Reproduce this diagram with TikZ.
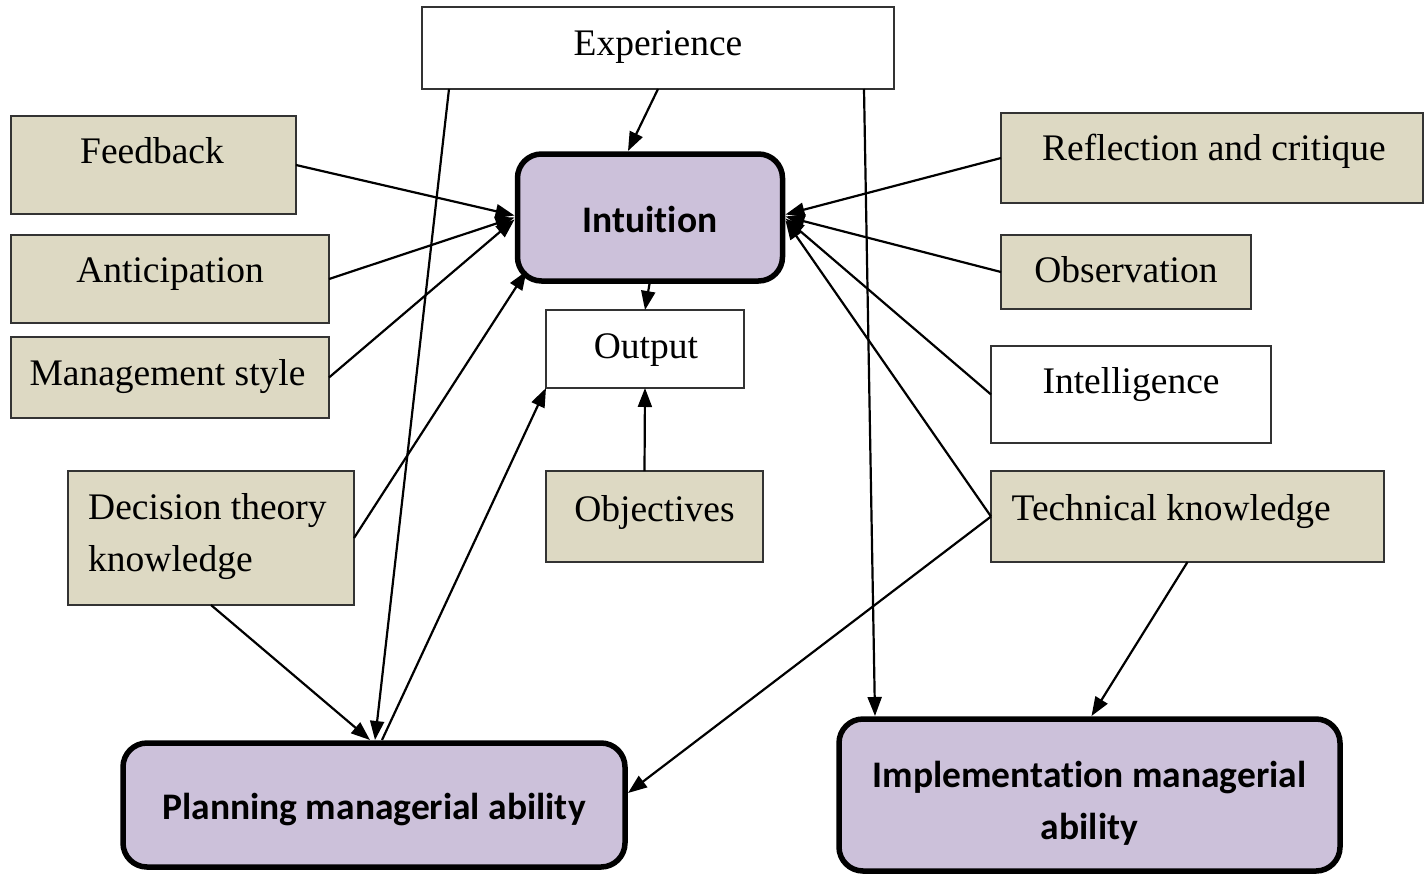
\documentclass[tikz,border=0pt]{standalone}
\usepackage{fontspec}
\setmainfont{Liberation Serif}
\newfontfamily\headfont[Ligatures=NoCommon]{Carlito}
\usetikzlibrary{arrows.meta,calc}
\definecolor{tan}{HTML}{DDD9C3}
\definecolor{lilac}{HTML}{CCC1DA}
\definecolor{edge}{HTML}{333333}
\begin{document}
\begin{tikzpicture}[x=1pt,y=-1pt,
  plainbox/.style={draw=edge,line width=1.4pt,fill=white,inner sep=0pt,outer sep=0pt},
  tanbox/.style={plainbox,fill=tan},
  keybox/.style={draw=black,line width=5.5pt,fill=lilac,rounded corners=24pt,inner sep=0pt,outer sep=0pt},
  sz/.style 2 args={minimum width=#1pt,minimum height=#2pt},
  lbl/.style={anchor=base,inner sep=0pt,font=\fontsize{37.5}{52}\selectfont},
  lblw/.style={anchor=base west,inner sep=0pt,font=\fontsize{37.5}{52}\selectfont},
  klbl/.style={anchor=base,inner sep=0pt,font=\headfont\bfseries\fontsize{37.5}{52}\selectfont},
  link/.style={line width=2.2pt,-{Triangle[length=19pt,width=14pt]}}]
\useasboundingbox (0,0) rectangle (1424,876);

% source boxes
\node[plainbox,sz={472}{82}] (exp) at (658,48) {};
\node[lbl,yshift=-7pt] at (exp.center) {Experience};

\node[tanbox,sz={285}{98}] (fb) at (153.5,165) {};
\node[lbl,yshift=2pt,xshift=-1.5pt] at (fb.center) {Feedback};

\node[tanbox,sz={318}{88}] (ant) at (170,279) {};
\node[lbl,yshift=-3pt] at (ant.center) {Anticipation};

\node[tanbox,sz={318}{81}] (mgmt) at (170,377.5) {};
\node[lbl,yshift=-7.5pt,xshift=-2.5pt] at (mgmt.center) {Management style};

\node[tanbox,sz={286}{134}] (dec) at (211,538) {};
\node[lblw,xshift=-123pt,yshift=19pt] at (dec.center) {Decision theory};
\node[lblw,xshift=-123pt,yshift=-33pt] at (dec.center) {knowledge};

\node[tanbox,sz={422}{90}] (refl) at (1212,158) {};
\node[lbl,yshift=-2pt,xshift=2pt] at (refl.center) {Reflection and critique};

\node[tanbox,sz={250}{74}] (obsv) at (1126,272) {};
\node[lbl,yshift=-10pt] at (obsv.center) {Observation};

\node[plainbox,sz={280}{97}] (intel) at (1131,394.5) {};
\node[lbl,yshift=1.5pt] at (intel.center) {Intelligence};

\node[tanbox,sz={393}{91}] (tech) at (1187.5,516.5) {};
\node[lblw,xshift=-176pt,yshift=-3.5pt] at (tech.center) {Technical knowledge};

% middle column
\node[plainbox,sz={198}{78}] (out) at (645,349) {};
\node[lbl,yshift=-9pt,xshift=1pt] at (out.center) {Output};

\node[tanbox,sz={217}{91}] (obj) at (654.5,516.5) {};
\node[lbl,yshift=-4.5pt] at (obj.center) {Objectives};

% key boxes
\node[keybox,sz={265}{127}] (intu) at (650,217.5) {};
\node[klbl,yshift=-14.5pt] at (intu.center) {Intuition};

\node[keybox,sz={502}{124}] (plan) at (374,805) {};
\node[klbl,yshift=-14pt] at (plan.center) {Planning managerial ability};

\node[keybox,sz={501}{152}] (impl) at (1089.5,795) {};
\node[klbl,yshift=8pt] at (impl.center) {Implementation managerial};
\node[klbl,yshift=-44pt] at (impl.center) {ability};

% connectors
\draw[link] (exp.south) -- ($(intu.north)+(-22,-3)$);
\draw[link] ($(exp.south west)+(27,0)$) -- ($(plan.north)+(1,-3)$);
\draw[link] ($(exp.south east)+(-30,0)$) -- ($(impl.north west)+(36,-3)$);

\draw[link] (fb.east) -- ($(intu.west)+(-3,-2)$);
\draw[link] (ant.east) -- ($(intu.west)+(-3,0)$);
\draw[link] (mgmt.east) -- ($(intu.west)+(-3,2)$);
\draw[link] (dec.east) -- ($(intu.south west)+(9,-10)$);
\draw[link] (dec.south) -- ($(plan.north)+(-4,-3)$);
\draw[link] ($(plan.north)+(8,-3)$) -- (out.south west);

\draw[link] (intu.south) -- (out.north);
\draw[link] ($(obj.north)+(-10,0)$) -- (out.south);

\draw[link] (refl.west) -- ($(intu.east)+(3,-3)$);
\draw[link] (obsv.west) -- ($(intu.east)+(3,-1)$);
\draw[link] (intel.west) -- ($(intu.east)+(3,1)$);
\draw[link] (tech.west) -- ($(intu.east)+(3,3)$);
\draw[link] (tech.west) -- ($(plan.east)+(3,-12)$);
\draw[link] (tech.south) -- ($(impl.north)+(2,-3)$);
\end{tikzpicture}
\end{document}
